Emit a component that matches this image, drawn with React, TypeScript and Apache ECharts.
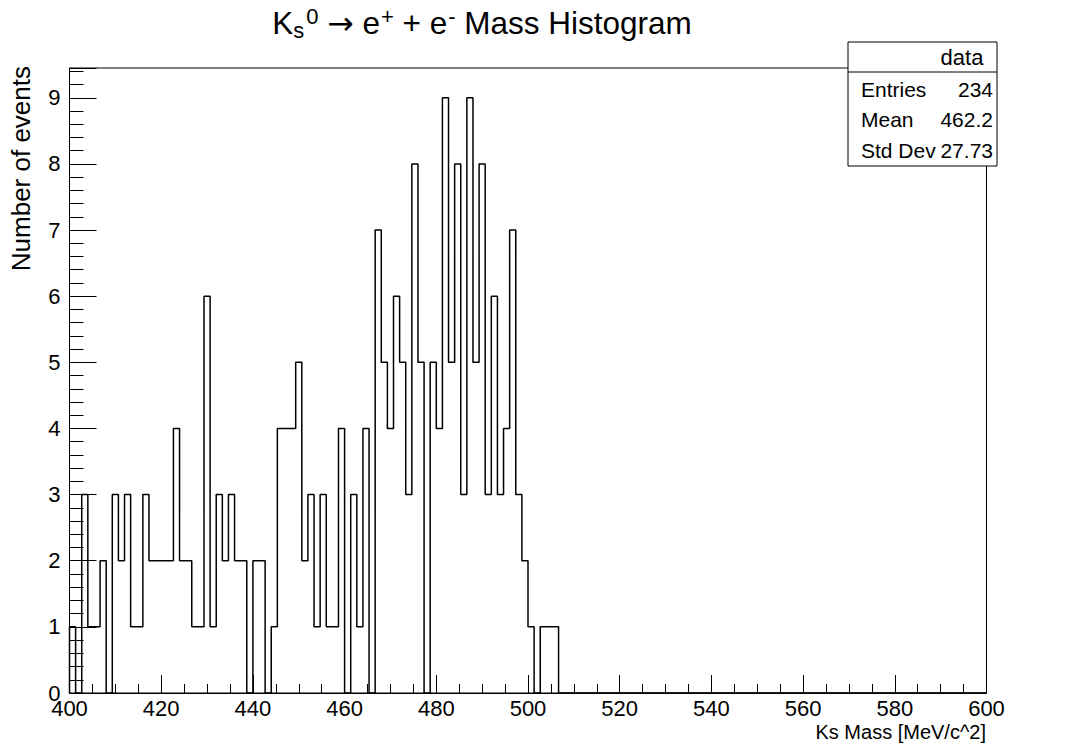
import React, { useEffect, useRef } from "react";
import * as echarts from "echarts";

// Histogram binning (ROOT TH1: 150 bins from 400 to 600 MeV/c^2)
const xMin = 400;
const xMax = 600;
const nBins = 150;

// Bin contents (bin 0 starts at 400)
const binCounts: number[] = [
  1, 0, 3, 1, 1, 2, 0, 3, 2, 3,
  1, 1, 3, 2, 2, 2, 2, 4, 2, 2,
  1, 1, 6, 1, 3, 2, 3, 2, 2, 0,
  2, 2, 0, 1, 4, 4, 4, 5, 2, 3,
  1, 3, 1, 1, 4, 0, 3, 1, 4, 0,
  7, 5, 4, 6, 5, 3, 8, 5, 0, 5,
  4, 9, 5, 8, 3, 9, 5, 8, 3, 6,
  3, 4, 7, 3, 2, 1, 0, 1, 1, 1,
  0, 0, 0, 0, 0, 0, 0, 0, 0, 0,
  0, 0, 0, 0, 0, 0, 0, 0, 0, 0,
  0, 0, 0, 0, 0, 0, 0, 0, 0, 0,
  0, 0, 0, 0, 0, 0, 0, 0, 0, 0,
  0, 0, 0, 0, 0, 0, 0, 0, 0, 0,
  0, 0, 0, 0, 0, 0, 0, 0, 0, 0,
  0, 0, 0, 0, 0, 0, 0, 0, 0, 0,
];

const statLabels = ["Entries", "Mean", "Std Dev"];
const statValues = ["234", "462.2", "27.73"];
const statTitle = "data";

const yMax = 9.45;
const xTickStep = 20;
const xMinorStep = 5;
const yTickStep = 1;
const yMinorStep = 0.2;

const FONT = "'Liberation Sans', Arial, Helvetica, sans-serif";

export default function App() {
  const ref = useRef<HTMLDivElement>(null);

  useEffect(() => {
    if (!ref.current) return;
    const chart = echarts.init(ref.current, null, { renderer: "svg" });
    const binWidth = (xMax - xMin) / nBins;
    const lineData: number[][] = [[xMin, 0]];
    binCounts.forEach((c, i) => lineData.push([xMin + i * binWidth, c]));
    lineData.push([xMax, binCounts[binCounts.length - 1]]);

    const gridLeft = 69.5;
    const gridRight = 100.5;
    const gridTop = 68;
    const gridBottom = 59;

    const boxX = 848;
    const boxY = 42;
    const boxW = 149;
    const boxH = 124;

    const statTexts: any[] = [];
    statLabels.forEach((lab, i) => {
      const y = 89 + i * 30.5;
      statTexts.push({
        type: "text",
        x: 861,
        y,
        style: { text: lab, font: `21px ${FONT}`, fill: "#000", align: "left", verticalAlign: "middle" },
        z: 101,
      });
      statTexts.push({
        type: "text",
        x: 993,
        y,
        style: { text: statValues[i], font: `21px ${FONT}`, fill: "#000", align: "right", verticalAlign: "middle" },
        z: 101,
      });
    });

    chart.setOption({
      animation: false,
      backgroundColor: "#fff",
      grid: {
        left: gridLeft,
        right: gridRight,
        top: gridTop,
        bottom: gridBottom,
        show: true,
        borderColor: "#000",
        borderWidth: 1,
        backgroundColor: "transparent",
      },
      xAxis: [
        {
          type: "value",
          min: xMin,
          max: xMax,
          interval: xTickStep,
          axisLine: { show: true, onZero: false, lineStyle: { color: "#000", width: 1 } },
          axisTick: { show: true, inside: true, length: 18, lineStyle: { color: "#000", width: 1 } },
          axisLabel: { show: true, color: "#000", fontSize: 22, fontFamily: FONT, margin: 4 },
          splitLine: { show: false },
        },
        {
          type: "value",
          min: xMin,
          max: xMax,
          interval: xMinorStep,
          position: "bottom",
          offset: 0,
          axisLine: { show: false },
          axisTick: { show: true, inside: true, length: 9, lineStyle: { color: "#000", width: 1 } },
          axisLabel: { show: false },
          splitLine: { show: false },
        },
      ],
      yAxis: [
        {
          type: "value",
          min: 0,
          max: yMax,
          interval: yTickStep,
          axisLine: { show: true, onZero: false, lineStyle: { color: "#000", width: 1 } },
          axisTick: { show: true, inside: true, length: 27, lineStyle: { color: "#000", width: 1 } },
          axisLabel: {
            show: true,
            color: "#000",
            fontSize: 22,
            fontFamily: FONT,
            margin: 9,
            formatter: (v: number) => (Math.abs(v - Math.round(v)) < 1e-9 ? String(Math.round(v)) : ""),
          },
          splitLine: { show: false },
        },
        {
          type: "value",
          min: 0,
          max: yMax,
          interval: yMinorStep,
          position: "left",
          offset: 0,
          axisLine: { show: false },
          axisTick: { show: true, inside: true, length: 14, lineStyle: { color: "#000", width: 1 } },
          axisLabel: { show: false },
          splitLine: { show: false },
        },
      ],
      series: [
        {
          type: "line",
          xAxisIndex: 0,
          yAxisIndex: 0,
          data: lineData,
          step: "end",
          showSymbol: false,
          symbol: "none",
          lineStyle: { color: "#000", width: 1.5 },
          silent: true,
          z: 5,
        },
      ],
      graphic: [
        {
          type: "text",
          x: 482,
          y: 23,
          style: {
            text: "{n|K}{sub|s}{sup|0}{n| }{arr|→}{n| e}{sup|+}{n| + e}{sup|-}{n| Mass Histogram}",
            align: "center",
            verticalAlign: "middle",
            fill: "#000",
            rich: {
              n: { fontSize: 31.5, fontFamily: FONT, fill: "#000", lineHeight: 36, verticalAlign: "middle" },
              arr: { fontSize: 31.5, fontFamily: "'DejaVu Sans', sans-serif", fill: "#000", lineHeight: 36, verticalAlign: "middle" },
              sub: { fontSize: 22, fontFamily: FONT, fill: "#000", lineHeight: 36, verticalAlign: "bottom", padding: [0, 1, 0, 0] },
              sup: { fontSize: 22, fontFamily: FONT, fill: "#000", lineHeight: 36, verticalAlign: "top", padding: [0, 0, 0, 1] },
            },
          },
          z: 100,
        },
        {
          type: "text",
          x: 986,
          y: 732,
          style: { text: "Ks Mass [MeV/c^2]", font: `20px ${FONT}`, fill: "#000", align: "right", verticalAlign: "middle" },
          z: 100,
        },
        {
          type: "text",
          x: 21,
          y: 66,
          rotation: Math.PI / 2,
          style: { text: "Number of events", font: `26px ${FONT}`, fill: "#000", align: "right", verticalAlign: "middle" },
          z: 100,
        },
        {
          type: "rect",
          shape: { x: boxX, y: boxY, width: boxW, height: boxH },
          style: { fill: "#fff", stroke: "#000", lineWidth: 1 },
          z: 100,
        },
        {
          type: "line",
          shape: { x1: boxX, y1: 72, x2: boxX + boxW, y2: 72 },
          style: { stroke: "#000", lineWidth: 1 },
          z: 101,
        },
        {
          type: "text",
          x: 962,
          y: 57,
          style: { text: statTitle, font: `22px ${FONT}`, fill: "#000", align: "center", verticalAlign: "middle" },
          z: 101,
        },
        ...statTexts,
      ],
    });

    return () => chart.dispose();
  }, []);

  return (
    <div
      ref={ref}
      style={{ position: "fixed", left: 0, top: 0, width: 1087, height: 752, background: "#fff" }}
    />
  );
}
